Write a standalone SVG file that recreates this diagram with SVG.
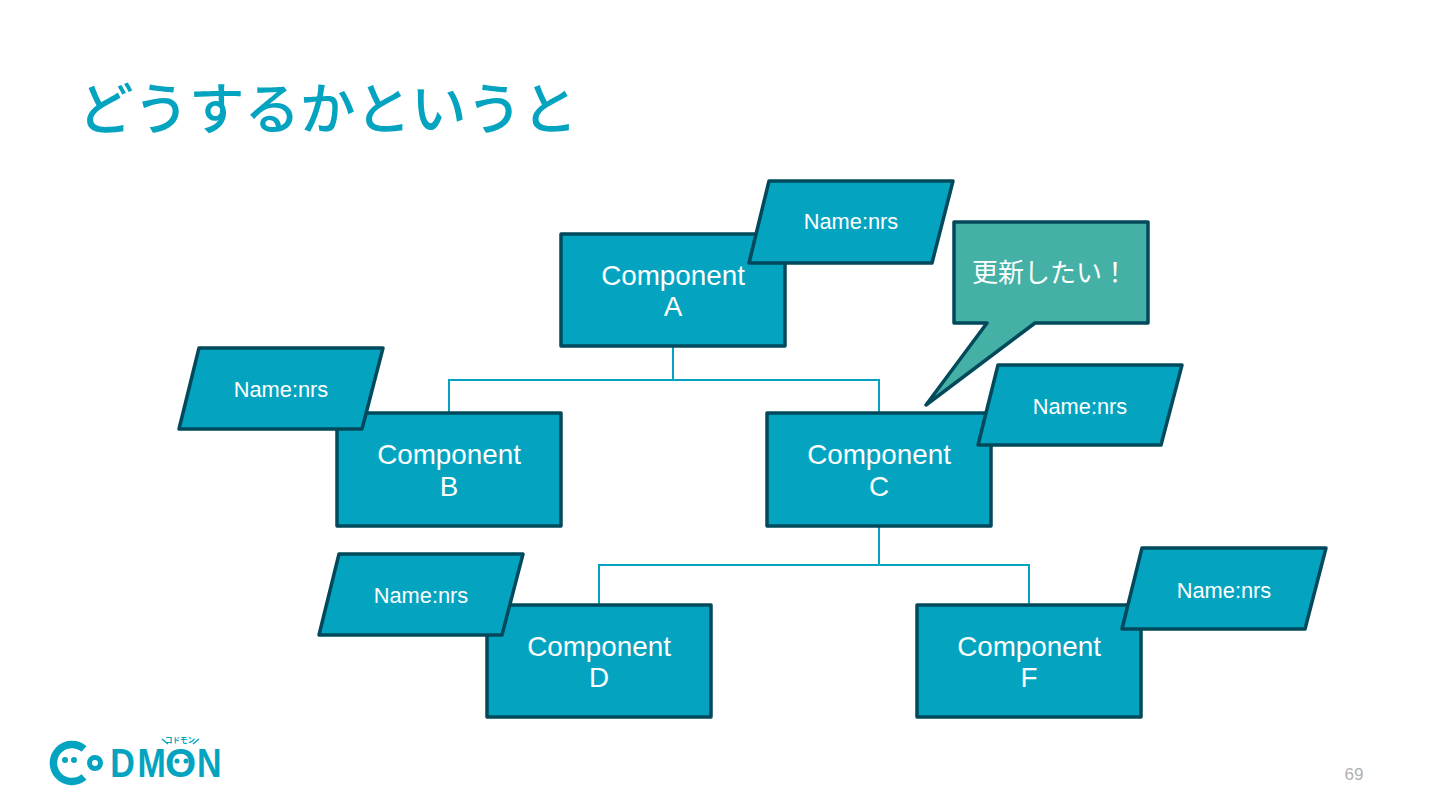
<svg xmlns="http://www.w3.org/2000/svg" width="1440" height="810" viewBox="0 0 1440 810">
<style>
.box{fill:#04a4c1;stroke:#02495b;stroke-width:3.500;stroke-linejoin:round}
.conn{fill:none;stroke:#04a4c1;stroke-width:2}
text{font-family:"Liberation Sans","Noto Sans CJK JP",sans-serif;fill:#fff;text-anchor:middle}
.c{font-size:27.800px}
.n{font-size:21.800px}
.logo{font-family:"Liberation Sans","Noto Sans CJK JP",sans-serif;fill:#04a4c1;font-weight:700}
</style>
<rect width="1440" height="810" fill="#fff"/>
<text id="title" x="78" y="129" style="font-family:'Noto Sans CJK JP',sans-serif;font-weight:500;font-size:55.500px;fill:#04a4c1;text-anchor:start">どうするかというと</text>
<g id="connectors">
<path class="conn" d="M673 346V380M449 413V380H879V413"/>
<path class="conn" d="M879 526V565M599 605V565H1029V605"/>
</g>
<g id="component-a"><rect class="box" x="561" y="234" width="224" height="112"/><text class="c" x="673" y="285">Component</text><text class="c" x="673" y="316">A</text></g>
<g id="component-b"><rect class="box" x="337" y="413" width="224" height="113"/><text class="c" x="449" y="464">Component</text><text class="c" x="449" y="496">B</text></g>
<g id="component-c"><rect class="box" x="767" y="413" width="224" height="113"/><text class="c" x="879" y="464">Component</text><text class="c" x="879" y="496">C</text></g>
<g id="component-d"><rect class="box" x="487" y="605" width="224" height="112"/><text class="c" x="599" y="656">Component</text><text class="c" x="599" y="687">D</text></g>
<g id="component-f"><rect class="box" x="917" y="605" width="224" height="112"/><text class="c" x="1029" y="656">Component</text><text class="c" x="1029" y="687">F</text></g>
<g id="name-a"><path class="box" d="M769 181H953L932 263H749Z"/><text class="n" x="851" y="229">Name:nrs</text></g>
<g id="name-b"><path class="box" d="M199 348H383L362 429H179Z"/><text class="n" x="281" y="397">Name:nrs</text></g>
<g id="name-c"><path class="box" d="M998 365H1182L1161 445H978Z"/><text class="n" x="1080" y="414">Name:nrs</text></g>
<g id="name-d"><path class="box" d="M339 554H523L502 635H319Z"/><text class="n" x="421" y="603">Name:nrs</text></g>
<g id="name-f"><path class="box" d="M1142 548H1326L1305 629H1122Z"/><text class="n" x="1224" y="598">Name:nrs</text></g>
<g id="callout"><path d="M954 222H1148V323H1035L926 405L987 323H954Z" fill="#45b1a6" stroke="#02495b" stroke-width="3.500" stroke-linejoin="round"/><text x="1050" y="282" style="font-size:26px;font-family:'Noto Sans CJK JP',sans-serif">更新したい！</text></g>
<g id="logo">
<path d="M84 749A18.500 18.500 0 1 0 84 777" fill="none" stroke="#04a4c1" stroke-width="7.500"/>
<circle cx="65" cy="760" r="3" fill="#04a4c1"/><circle cx="74" cy="760" r="3" fill="#04a4c1"/>
<circle cx="95" cy="763" r="5.500" fill="none" stroke="#04a4c1" stroke-width="5"/>
<text class="logo" transform="translate(112 777) scale(.85 1)" style="font-size:40px;text-anchor:start"><tspan x="-2">D</tspan><tspan x="30">M</tspan><tspan x="100">N</tspan></text>
<text class="logo" x="165" y="777" style="font-size:40px;text-anchor:start">O</text>
<circle cx="177" cy="761" r="2.500" fill="#04a4c1"/><circle cx="186" cy="761" r="2.500" fill="#04a4c1"/>
<path d="M162 739L168 744M199 739L193 744" stroke="#04a4c1" stroke-width="1.500" fill="none"/>
<text class="logo" x="180" y="743" style="font-size:7.500px">コドモン</text>
</g>
<text id="page" x="1354" y="780" style="font-family:'Liberation Sans',sans-serif;font-size:17px;fill:#b0b0b0">69</text>
</svg>
